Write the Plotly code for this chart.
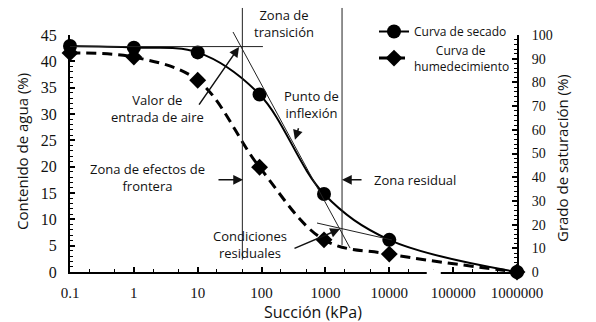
import plotly.graph_objects as go

# ---------------- data ----------------
succion_secado = [0.1, 1, 10, 93, 950, 10000, 1000000]
agua_secado = [42.9, 42.6, 41.7, 33.7, 14.8, 6.1, 0.0]

succion_humed = [0.1, 1, 10, 93, 950, 10000, 1000000]
agua_humed = [41.6, 40.8, 36.4, 19.9, 6.1, 3.4, 0.0]

x_tick_vals = [0.1, 1, 10, 100, 1000, 10000, 100000, 1000000]
x_tick_text = ["0.1", "1", "10", "100", "1000", "10000", "100000", "1000000"]
y_left_ticks = [0, 5, 10, 15, 20, 25, 30, 35, 40, 45]
y_right_ticks = [0, 10, 20, 30, 40, 50, 60, 70, 80, 90, 100]

# construction lines (x in kPa, y in paper fraction of the plot height)
linea_trans_izq = dict(x=50, y0=0.052, y1=1.114)
linea_trans_der = dict(x=1820, y0=0.114, y1=1.114)
linea_aire = dict(x0=0.1, x1=105, y=42.8)
tangente = dict(x0=35.7, y0=1.0127, x1=2430, y1=0.101)
tangente_res = dict(x0=738, y0=9.3, x1=11000, y1=6.08)

TXT = "Open Sans"
NUM = "Liberation Serif"

fig = go.Figure()

fig.add_trace(go.Scatter(
    x=succion_secado, y=agua_secado, name="Curva de secado",
    mode="lines+markers", line=dict(color="black", width=2, shape="spline", smoothing=1),
    marker=dict(symbol="circle", size=14, color="black"), cliponaxis=False))
fig.add_trace(go.Scatter(
    x=succion_humed, y=agua_humed,
    name="&nbsp;&nbsp;&nbsp;&nbsp;&nbsp;&nbsp;&nbsp;Curva de<br>humedecimiento",
    mode="lines+markers", line=dict(color="black", width=3, dash="10px,6px", shape="spline", smoothing=1),
    marker=dict(symbol="diamond", size=13, color="black"), cliponaxis=False))
# invisible trace to activate right axis
fig.add_trace(go.Scatter(x=[0.1], y=[0], yaxis="y2", mode="markers",
                         marker=dict(opacity=0), showlegend=False, hoverinfo="skip"))

thin = dict(color="#222", width=1)
shapes = [
    dict(type="line", xref="x", yref="paper", x0=linea_trans_izq["x"], x1=linea_trans_izq["x"],
         y0=linea_trans_izq["y0"], y1=linea_trans_izq["y1"], line=thin),
    dict(type="line", xref="x", yref="paper", x0=linea_trans_der["x"], x1=linea_trans_der["x"],
         y0=linea_trans_der["y0"], y1=linea_trans_der["y1"], line=thin),
    dict(type="line", xref="x", yref="y", x0=linea_aire["x0"], x1=linea_aire["x1"],
         y0=linea_aire["y"], y1=linea_aire["y"], line=thin),
    dict(type="line", xref="x", yref="paper", x0=tangente["x0"], x1=tangente["x1"],
         y0=tangente["y0"], y1=tangente["y1"], line=thin),
    dict(type="line", xref="x", yref="y", x0=tangente_res["x0"], x1=tangente_res["x1"],
         y0=tangente_res["y0"], y1=tangente_res["y1"], line=thin),
    # break in the x axis line
    dict(type="rect", xref="x", yref="paper", x0=38600, x1=64000, y0=-0.03, y1=0.012,
         fillcolor="white", line=dict(width=0), layer="above"),
]

def arrow(x_log, y, ax, ay):
    return dict(x=x_log, y=y, xref="x", yref="y", ax=ax, ay=ay, showarrow=True,
                arrowhead=2, arrowsize=1.3, arrowwidth=1.5, arrowcolor="#111", text="")

def px(xp, yp):
    return ((xp - 70) / 447.0, (272 - yp) / 237.0)

def label(xp, yp, text, size=13, angle=0):
    a, b = px(xp, yp)
    return dict(x=a, y=b, xref="paper", yref="paper", text=text, showarrow=False,
                font=dict(family=TXT, size=size, color="#111"), align="center",
                xanchor="center", yanchor="middle", textangle=angle)

anns = [
    arrow(1.676, 46.9, 19, 0),
    arrow(3.228, 46.9, -22, 0),
    arrow(1.647, 42.7, -41, 59),
    arrow(2.523, 25.1, 4, -13),
    arrow(1.709, 17.5, -26, 0),
    arrow(3.26, 17.5, 21, 0),
    arrow(3.228, 8.16, -47, 20),
]
for (xp, yp, t) in [
    (284, 24, "Zona de<br>transición"),
    (157, 108, "Valor de<br>entrada de aire"),
    (311, 105, "Punto de<br>inflexión"),
    (147, 177, "Zona de efectos de<br>frontera"),
    (415, 180, "Zona residual"),
    (250, 244, "Condiciones<br>residuales"),
]:
    anns.append(label(xp, yp, t))

# axis titles
anns.append(label(22, 152, "Contenido de agua (%)", size=15, angle=-90))
anns.append(label(562, 158, "Grado de saturación (%)", size=15, angle=-90))
anns.append(label(313, 312, "Succión (kPa)", size=16))

fig.update_layout(
    width=596, height=322,
    margin=dict(l=70, r=79, t=35, b=50),
    paper_bgcolor="white", plot_bgcolor="white",
    showlegend=True,
    legend=dict(x=(374 - 70) / 447.0, y=(272 - 17) / 237.0, xanchor="left", yanchor="top",
                font=dict(family=TXT, size=12, color="#111"), bgcolor="rgba(0,0,0,0)",
                tracegroupgap=0),
    xaxis=dict(type="log", range=[-1, 6], tickvals=x_tick_vals, ticktext=x_tick_text,
               showgrid=False, zeroline=False, showline=True, linecolor="black", linewidth=2,
               ticks="inside", ticklen=5, tickcolor="black", tickwidth=1.5,
               minor=dict(ticks="inside", ticklen=3, tickcolor="black", dtick="D2", tickwidth=1),
               tickfont=dict(family=NUM, size=15, color="#111"), ticklabelstandoff=6),
    yaxis=dict(range=[0, 45], tickvals=y_left_ticks, showgrid=False, zeroline=False,
               showline=True, linecolor="black", linewidth=2,
               ticks="inside", ticklen=5, tickcolor="black", tickwidth=1.5,
               minor=dict(ticks="inside", ticklen=3, tickcolor="black", dtick=1, tickwidth=1),
               tickfont=dict(family=NUM, size=16, color="#111"), ticklabelstandoff=8),
    yaxis2=dict(range=[0, 100], tickvals=y_right_ticks, overlaying="y", side="right",
                anchor="x", showgrid=False, zeroline=False,
                showline=True, linecolor="black", linewidth=2,
                ticks="inside", ticklen=5, tickcolor="black", tickwidth=1.5,
                minor=dict(ticks="inside", ticklen=3, tickcolor="black", dtick=2, tickwidth=1),
                tickfont=dict(family=NUM, size=14, color="#111"), ticklabelstandoff=10),
    shapes=shapes, annotations=anns,
)

fig.write_html("out.html")
